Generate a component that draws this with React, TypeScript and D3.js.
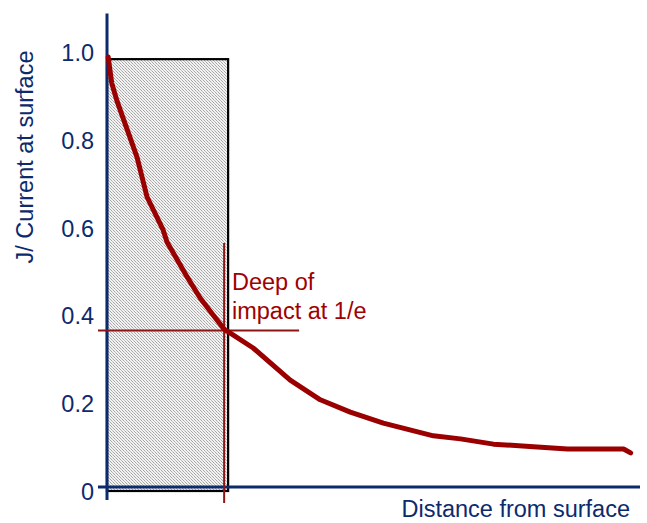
import React from "react";
import * as d3 from "d3";

// distance (units where 1 = depth of impact at 1/e) vs relative current
const distance = [0.01, 0.04, 0.085, 0.17, 0.256, 0.342, 0.479, 0.513, 0.684, 0.795, 0.906, 1.0, 1.248, 1.564, 1.821, 2.077, 2.359, 2.786, 3.017, 3.299, 3.641, 3.932, 4.41, 4.47];
const current = [0.991, 0.932, 0.891, 0.827, 0.763, 0.672, 0.597, 0.569, 0.49, 0.442, 0.403, 0.371, 0.328, 0.255, 0.21, 0.182, 0.157, 0.128, 0.121, 0.109, 0.103, 0.098, 0.098, 0.089];
const yTicks = [0, 0.2, 0.4, 0.6, 0.8, 1.0];
const yTickLabels = ["0", "0.2", "0.4", "0.6", "0.8", "1.0"];
const depthAtE = 1.0;
const levelAtE = 0.368;
const shadedWidth = 1.034;
const shadedTop = 0.986;

const W = 647;
const H = 523;
const NAVY = "#0c2a6c";
const RED = "#9b0000";
const MARK = "#8c1515";
const FONT = "'Liberation Sans', Arial, sans-serif";

export default function App() {
  const x = d3.scaleLinear().domain([0, 4.55]).range([107, 640]);
  const y = d3.scaleLinear().domain([0, 1]).range([492, 53]);
  const pts = distance.map((d, i) => [x(d), y(current[i])] as [number, number]);
  const line = d3.line().curve(d3.curveLinear)(pts) || "";
  const axisY = y(0) - 5;

  return (
    <svg width={W} height={H} style={{ position: "absolute", left: 0, top: 0, background: "#fff" }} fontFamily={FONT}>
      <defs>
        <pattern id="hatch" width="3" height="3" patternUnits="userSpaceOnUse">
          <rect width="3" height="3" fill="#f2f2f2" />
          <rect x="0" y="0" width="1" height="1" fill="#a6a6a6" />
          <rect x="1" y="1" width="1" height="1" fill="#bcbcbc" />
          <rect x="2" y="2" width="1" height="1" fill="#a6a6a6" />
        </pattern>
      </defs>

      {/* shaded region */}
      <rect
        x={x(0)}
        y={y(shadedTop)}
        width={x(shadedWidth) - x(0)}
        height={y(0) - y(shadedTop) - 1}
        fill="url(#hatch)"
        stroke="#000"
        strokeWidth={2.2}
      />

      {/* axes */}
      <line x1={x(0)} x2={x(0)} y1={y(1.09)} y2={y(-0.018)} stroke={NAVY} strokeWidth={3} />
      <line x1={x(-0.077)} x2={x(4.55)} y1={axisY} y2={axisY} stroke={NAVY} strokeWidth={3} />

      {yTicks.map((t, i) => (
        <text key={t} x={94} y={y(t)} textAnchor="end" dominantBaseline="central" fontSize={23.5} fill={NAVY}>
          {yTickLabels[i]}
        </text>
      ))}

      <text
        transform={`translate(25,${157}) rotate(-90)`}
        textAnchor="middle"
        dominantBaseline="central"
        fontSize={23.5}
        fill={NAVY}
      >
        J/ Current at surface
      </text>
      <text x={630} y={517} textAnchor="end" fontSize={23.5} fill={NAVY}>
        Distance from surface
      </text>

      {/* markers at 1/e */}
      <line x1={x(depthAtE)} x2={x(depthAtE)} y1={y(0.567)} y2={y(-0.025)} stroke={MARK} strokeWidth={2} />
      <line x1={x(-0.077)} x2={x(1.64)} y1={y(levelAtE)} y2={y(levelAtE)} stroke={MARK} strokeWidth={2} />

      {/* curve */}
      <path d={line} fill="none" stroke={RED} strokeWidth={5} strokeLinecap="round" strokeLinejoin="round" />

      <text x={232} y={290} fontSize={23.5} fill={"#a00000"}>Deep of</text>
      <text x={232} y={319} fontSize={23.5} fill={"#a00000"}>impact at 1/e</text>
    </svg>
  );
}
